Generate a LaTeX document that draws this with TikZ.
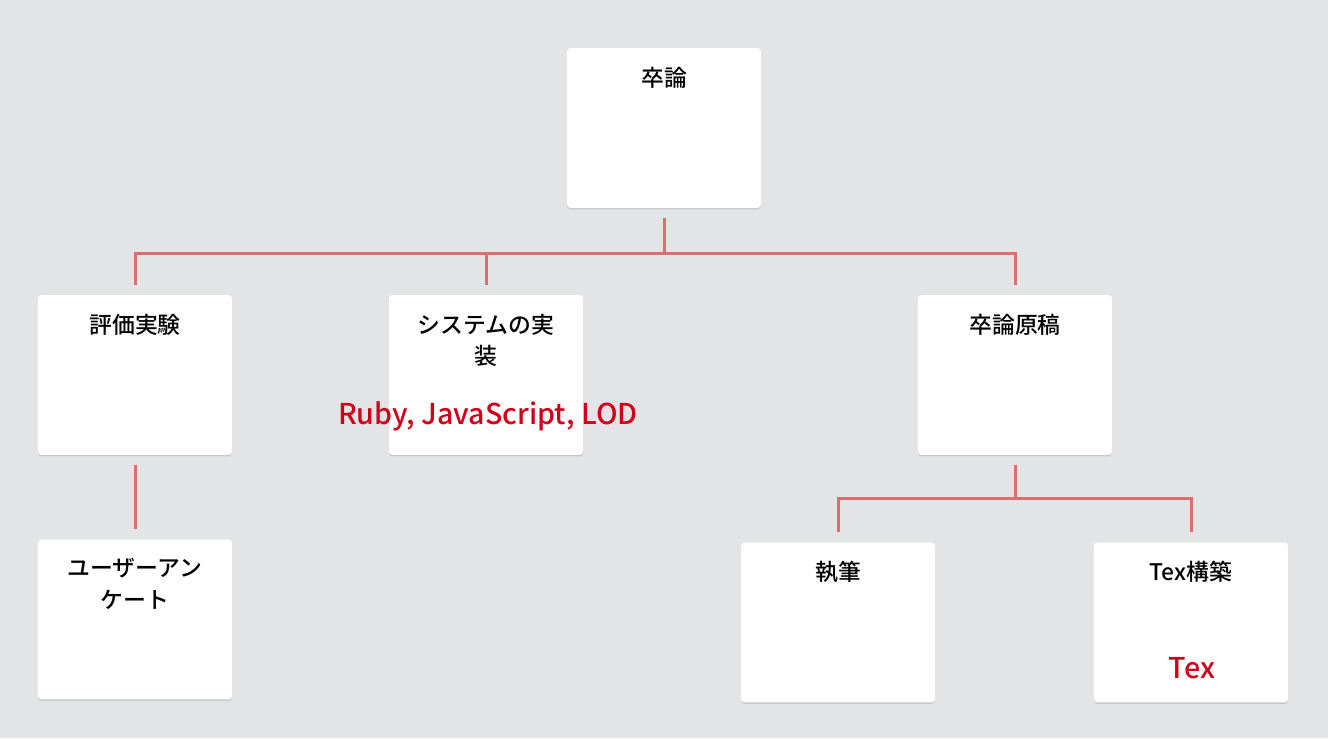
\documentclass[tikz,border=0pt]{standalone}
\usepackage{fontspec}
\setmainfont{Noto Sans CJK JP}[UprightFont=* Medium]
\usepackage{xcolor}
\definecolor{boardgray}{RGB}{227,228,230}
\definecolor{linkred}{RGB}{222,110,110}
\definecolor{notered}{RGB}{208,2,27}
\usepackage{tikz}
\usetikzlibrary{positioning, shadows}

\begin{document}
\begin{tikzpicture}[
  x=0.02cm, y=-0.02cm,
  card/.style={rectangle, fill=white, rounded corners=2pt, minimum width=3.88cm, minimum height=3.2cm, inner sep=0pt,
    drop shadow={shadow xshift=0cm, shadow yshift=-0.03cm, fill=black, opacity=0.12}},
  title/.style={anchor=north, inner sep=0pt, align=center, text=black, font=\fontsize{13}{18}\selectfont},
  note/.style={inner sep=0pt, text=notered, font=\fontsize{16.3}{19}\selectfont},
  link/.style={draw=linkred, line width=0.06cm}
]

% Background
\fill[boardgray] (0,0) rectangle (1328,738);

% Cards
\node[card] (sotsuron) at (664,128) {};
\node[card] (hyoka) at (135,375) {};
\node[card] (jisso) at (486,375) {};
\node[card] (genko) at (1015,375) {};
\node[card] (enquete) at (135,619.5) {};
\node[card] (shippitsu) at (838,622.5) {};
\node[card] (texkochiku) at (1191,622.5) {};

% Titles
\node[title, below=0.38cm of sotsuron.north] (sotsurontitle) {卒論};
\node[title, below=0.38cm of hyoka.north] (hyokatitle) {評価実験};
\node[title, below=0.38cm of jisso.north] (jissotitle) {システムの実\\装};
\node[title, below=0.38cm of genko.north] (genkotitle) {卒論原稿};
\node[title, below=0.38cm of enquete.north] (enquetetitle) {ユーザーアン\\ケート};
\node[title, below=0.38cm of shippitsu.north] (shippitsutitle) {執筆};
\node[title, below=0.38cm of texkochiku.north] (texkochikutitle) {Tex構築};

% Notes
\node[note] (jissonote) at (488,416) {Ruby, JavaScript, LOD};
\node[note] (texnote) at (1192,668) {Tex};

% Links
\coordinate (bar1) at (664,253);
\coordinate (bar2) at (1015,498);

\draw[link, shorten <=0.2cm] (sotsuron) -- (bar1);
\draw[link, shorten >=0.2cm] (bar1) -| (hyoka);
\draw[link, shorten >=0.2cm] (bar1) -| (jisso);
\draw[link, shorten >=0.2cm] (bar1) -| (genko);

\draw[link, shorten <=0.2cm, shorten >=0.2cm] (hyoka) -- (enquete);

\draw[link, shorten <=0.2cm] (genko) -- (bar2);
\draw[link, shorten >=0.2cm] (bar2) -| (shippitsu);
\draw[link, shorten >=0.2cm] (bar2) -| (texkochiku);

\end{tikzpicture}
\end{document}
